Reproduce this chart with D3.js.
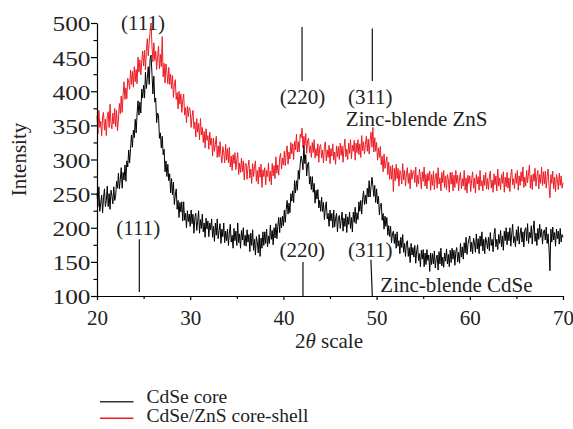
<!DOCTYPE html>
<html>
<head>
    <meta charset="utf-8">
    <title>XRD CdSe / CdSe-ZnS</title>
    <script src="https://d3js.org/d3.v7.min.js"></script>
    <style>
        body { margin: 0; background: #fff; }
        text { font-family: "Liberation Serif", "Times New Roman", serif; fill: #222; }
        .axis path, .axis line { stroke: #000; stroke-width: 1.2px; }
        .axis text { font-size: 21px; }
        .series { fill: none; stroke-width: 1px; stroke-linejoin: round; }
    </style>
</head>
<body>
<script>

    // 2theta sampling of the two scans (20 -> 70 deg)
    var angleStart = 20, angleStep = 0.1;

    // CdSe core (black), one row per 2 deg
    var cdseCore = [
        251,231,260,224,236,248,222,244,257,231,240,261,231,250,227,255,247,235,260,240,
        246,268,258,280,257,271,288,258,281,270,292,268,298,289,314,295,316,336,318,343,
        332,359,339,367,386,365,384,368,403,390,409,390,428,404,419,436,410,448,453,425,
        396,422,384,390,354,368,365,331,339,317,334,307,315,282,298,275,293,269,279,251,
        272,248,267,234,248,257,227,240,215,237,223,238,210,238,211,221,200,225,209,220,
        202,226,206,220,192,215,221,196,209,225,192,212,199,220,194,207,186,214,198,210,
        187,207,197,213,186,202,180,207,189,213,184,196,206,177,198,187,207,178,195,181,
        198,174,192,205,179,189,170,199,181,195,174,207,178,191,170,196,182,200,174,189,
        173,197,179,190,165,192,174,197,167,183,160,187,179,163,190,158,185,170,194,174,
        194,177,198,172,188,177,204,183,196,175,200,185,206,184,202,215,193,215,200,217,
        203,226,208,227,240,220,236,222,250,239,254,237,269,251,269,255,284,271,293,305,
        298,285,321,294,307,276,293,296,264,275,256,275,252,265,236,255,242,256,229,240,
        224,245,224,237,212,229,238,213,221,202,226,210,221,200,226,201,214,221,194,215,
        218,199,211,223,195,214,202,220,193,216,205,223,199,215,194,223,208,230,206,222,
        212,238,224,240,220,242,254,234,248,235,258,245,269,245,259,274,262,246,262,237,
        257,235,246,219,234,236,211,221,198,217,202,215,189,203,187,202,178,191,195,177,
        191,170,194,173,181,162,186,171,190,164,177,158,178,181,158,171,149,177,160,171,
        157,174,148,166,175,152,162,143,167,154,168,143,163,146,168,152,160,136,163,146,
        162,147,166,141,155,160,138,165,147,170,144,157,142,163,151,169,147,161,143,167,
        149,170,154,167,145,165,171,150,164,148,177,157,172,154,178,163,186,161,175,183,
        188,165,179,162,185,178,164,191,169,184,162,188,173,194,166,183,162,186,179,169,
        186,166,193,174,183,165,190,199,172,183,168,190,177,196,172,188,167,195,181,200,
        175,194,181,200,173,191,205,178,187,172,197,181,202,176,191,200,179,194,172,197,
        200,181,206,177,193,185,203,176,197,210,180,192,174,199,183,205,186,198,176,194,
        197,182,201,177,191,169,137,198,179,201,182,193,173,198,184,195,176,199,179,190,
        186
    ];

    // CdSe/ZnS core-shell (red), one row per 2 deg
    var coreShell = [
        364,338,372,347,356,335,363,369,343,359,335,363,370,347,381,353,345,368,352,375,
        348,372,342,358,382,367,393,369,395,414,388,405,389,419,413,403,431,410,429,406,
        436,414,432,411,450,428,446,424,443,459,437,460,431,460,477,452,472,488,500,466,
        443,471,445,459,432,450,466,433,454,436,480,421,441,412,440,428,411,435,410,425,
        404,423,391,409,417,388,398,374,400,381,396,369,387,396,365,376,354,378,363,376,
        372,347,363,372,345,355,333,360,340,353,329,360,336,347,325,341,317,345,328,335,
        315,340,321,331,305,331,312,322,334,303,320,304,326,307,295,319,310,295,322,299,
        316,295,318,289,305,284,307,294,310,285,300,310,278,295,281,302,282,298,270,294,
        294,271,289,299,273,286,265,294,275,289,298,268,284,264,289,274,293,259,285,275,
        288,263,284,275,295,268,283,263,294,276,291,272,304,280,292,277,303,309,286,302,
        292,312,291,310,320,293,311,301,325,308,323,300,327,314,337,311,326,311,337,332,
        346,317,334,321,338,309,328,331,310,320,303,325,310,329,302,316,305,323,296,319,
        322,302,314,295,319,326,298,314,303,321,294,316,305,323,299,311,293,320,304,319,
        300,324,306,320,296,317,330,304,315,300,324,309,329,301,321,312,328,299,324,310,
        329,307,323,303,335,313,326,308,322,334,312,330,308,327,340,318,347,311,332,312,
        325,299,317,303,319,292,305,282,308,287,295,304,278,296,271,290,271,292,253,287,
        269,293,272,287,261,284,278,264,294,270,284,261,279,288,265,280,257,285,271,282,
        284,266,289,260,277,264,286,275,257,282,268,289,261,278,257,280,269,283,255,278,
        262,283,256,275,280,258,288,264,273,254,281,266,284,259,276,256,278,271,252,281,
        264,281,254,277,259,284,265,277,254,273,281,257,272,261,284,255,273,251,277,265,
        276,253,271,282,258,273,251,278,264,275,255,284,261,269,254,277,262,281,257,272,
        256,274,283,258,270,252,279,263,276,254,286,261,273,256,278,265,282,252,274,260,
        281,258,273,253,277,286,263,272,257,280,265,284,255,276,262,282,268,289,259,274,
        261,284,266,280,292,258,277,256,279,268,287,261,275,284,257,278,265,289,262,282,
        264,283,258,275,286,260,244,278,265,283,257,274,253,278,271,256,280,262,276,258,
        266
    ];

    var xTicks = [20, 30, 40, 50, 60, 70];
    var yTicks = [100, 150, 200, 250, 300, 350, 400, 450, 500];
    var xMinor = [25, 35, 45, 55, 65];
    var yMinor = [125, 175, 225, 275, 325, 375, 425, 475];

    // reflection markers: label, 2theta of label, label intensity,
    // marker line [2theta top, 2theta bottom, intensity top, intensity bottom]
    var shellPeaks = [
        {label: "(111)", at: 24.93, y: 490, line: null},
        {label: "(220)", at: 42.05, y: 382, line: [42.0, 42.0, 494, 415]},
        {label: "(311)", at: 49.32, y: 382, line: [49.54, 49.54, 492, 415]}
    ];
    var corePeaks = [
        {label: "(111)", at: 24.43, y: 190, line: [24.54, 24.54, 183, 106]},
        {label: "(220)", at: 42.03, y: 157, line: [42.1, 42.1, 150, 100]},
        {label: "(311)", at: 49.32, y: 157, line: [49.39, 49.54, 153, 100]}
    ];
    var phaseLabels = [
        {text: "Zinc-blende ZnS", at: 46.70, y: 349},
        {text: "Zinc-blende CdSe", at: 50.40, y: 106}
    ];

    var seriesNames = ["CdSe core", "CdSe/ZnS core-shell"];
    var seriesColors = ["#000000", "#ed1c24"];

    var width = 573, height = 429;
    var margin = {top: 23, right: 10, bottom: 133, left: 97};

    var svg = d3.select("body").append("svg")
        .attr("width", width)
        .attr("height", height);

    var x = d3.scaleLinear().domain([20, 70]).range([margin.left, 563]);
    var y = d3.scaleLinear().domain([100, 500]).range([296, margin.top]);

    function angleOf(i) { return angleStart + i * angleStep; }

    var line = d3.line()
        .x(function(d, i) { return x(angleOf(i)); })
        .y(function(d) { return y(d); });

    svg.append("path")
        .datum(coreShell)
        .attr("class", "series")
        .attr("stroke", seriesColors[1])
        .attr("d", line);

    svg.append("path")
        .datum(cdseCore)
        .attr("class", "series")
        .attr("stroke", seriesColors[0])
        .attr("d", line);

    // minor ticks
    svg.append("g")
        .attr("class", "axis")
        .attr("transform", "translate(0," + y(100) + ")")
        .call(d3.axisBottom(x).tickValues(xMinor).tickSize(3).tickFormat(""))
        .select(".domain").remove();
    svg.append("g")
        .attr("class", "axis")
        .attr("transform", "translate(" + x(20) + ",0)")
        .call(d3.axisLeft(y).tickValues(yMinor).tickSize(3.5).tickFormat(""))
        .select(".domain").remove();

    // X axis
    svg.append("g")
        .attr("class", "axis")
        .attr("transform", "translate(0," + y(100) + ")")
        .call(d3.axisBottom(x).tickValues(xTicks).tickSize(4).tickSizeOuter(0).tickPadding(10));

    // Y axis
    var yAxis = svg.append("g")
        .attr("class", "axis")
        .attr("transform", "translate(" + x(20) + ",0)")
        .call(d3.axisLeft(y).tickValues(yTicks).tickSize(6).tickSizeOuter(0).tickPadding(0.5));
    yAxis.selectAll("text")
        .attr("dy", "0.38em")
        .attr("textLength", 38)
        .attr("lengthAdjust", "spacingAndGlyphs");

    svg.selectAll(".axis text").style("fill", "#222");

    // axis titles
    svg.append("text")
        .attr("transform", "translate(26," + ((y(100) + y(500)) / 2) + ") rotate(-90)")
        .attr("text-anchor", "middle")
        .style("font-size", "21px")
        .text("Intensity");

    var xt = svg.append("text")
        .attr("x", (x(20) + x(70)) / 2 - 1)
        .attr("y", 348)
        .attr("text-anchor", "middle")
        .style("font-size", "21px");
    xt.append("tspan").text("2");
    xt.append("tspan").style("font-style", "italic").text("\u03b8");
    xt.append("tspan").text(" scale");

    // reflection markers
    var peaks = shellPeaks.concat(corePeaks);
    svg.selectAll(".peak-label")
        .data(peaks)
        .enter().append("text")
        .attr("class", "peak-label")
        .attr("x", function(d) { return x(d.at); })
        .attr("y", function(d) { return y(d.y); })
        .attr("text-anchor", "middle")
        .style("font-size", "21px")
        .text(function(d) { return d.label; });

    svg.selectAll(".peak-line")
        .data(peaks.filter(function(d) { return d.line; }))
        .enter().append("line")
        .attr("class", "peak-line")
        .attr("x1", function(d) { return x(d.line[0]); })
        .attr("x2", function(d) { return x(d.line[1]); })
        .attr("y1", function(d) { return y(d.line[2]); })
        .attr("y2", function(d) { return y(d.line[3]); })
        .attr("stroke", "#111")
        .attr("stroke-width", 1.2);

    svg.selectAll(".phase-label")
        .data(phaseLabels)
        .enter().append("text")
        .attr("class", "phase-label")
        .attr("x", function(d) { return x(d.at); })
        .attr("y", function(d) { return y(d.y); })
        .style("font-size", "21px")
        .text(function(d) { return d.text; });

    // legend
    var legend = svg.append("g").attr("class", "legend");
    seriesNames.forEach(function(name, i) {
        var ly = 401.7 + i * 16.5;
        legend.append("line")
            .attr("x1", 100).attr("x2", 133.5)
            .attr("y1", ly).attr("y2", ly)
            .attr("stroke", i === 0 ? "#333" : seriesColors[1])
            .attr("stroke-width", 1.4);
        legend.append("text")
            .attr("x", 146.5)
            .attr("y", ly + (i === 0 ? 1 : 3.3))
            .style("font-size", "19.5px")
            .text(name);
    });

</script>
</body>
</html>
